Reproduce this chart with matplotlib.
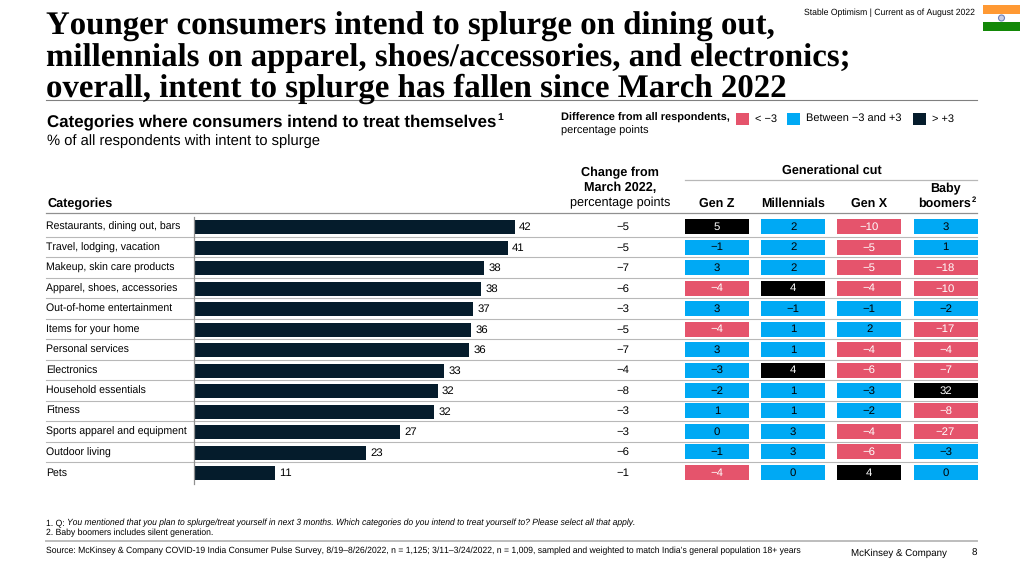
# -*- coding: utf-8 -*-

import matplotlib
matplotlib.use("Agg")
import matplotlib.pyplot as plt
from matplotlib.patches import Circle, Rectangle

WIDTH, HEIGHT = 1024, 576

categories = [
    "Restaurants, dining out, bars", "Travel, lodging, vacation",
    "Makeup, skin care products", "Apparel, shoes, accessories",
    "Out-of-home entertainment", "Items for your home", "Personal services",
    "Electronics", "Household essentials", "Fitness",
    "Sports apparel and equipment", "Outdoor living", "Pets",
]
# bars are drawn to unrounded lengths, labels round them
intent = [42.0, 41.1, 38.0, 37.6, 36.6, 36.3, 36.0, 32.8, 31.9, 31.5, 27.0, 22.6, 10.6]
change = [-5, -5, -7, -6, -3, -5, -7, -4, -8, -3, -3, -6, -1]
gen_z = [5, -1, 3, -4, 3, -4, 3, -3, -2, 1, 0, -1, -4]
millennials = [2, 2, 2, 4, -1, 1, 1, 4, 1, 1, 3, 3, 0]
gen_x = [-10, -5, -5, -4, -1, 2, -4, -6, -3, -2, -4, -6, 4]
boomers = [3, 1, -18, -10, -2, -17, -4, -7, 32, -8, -27, -3, 0]
generations = ["Gen Z", "Millennials", "Gen X"]
title_lines = [
    "Younger consumers intend to splurge on dining out,",
    "millennials on apparel, shoes/accessories, and electronics;",
    "overall, intent to splurge has fallen since March 2022",
]

NAVY = "#051C2C"
BLUE = "#00A9F4"
PINK = "#E5546C"
LINE = "#B8B8B8"

plt.rcParams["font.family"] = ["Liberation Sans", "DejaVu Sans"]
plt.rcParams["text.hinting"] = "no_hinting"
plt.rcParams["text.kerning_factor"] = 6


def pm(v):
    return str(v).replace("-", "\u2212")


def axes_px(left, top, right, bottom):
    # axes placed by pixel box of the slide
    return fig.add_axes([left / WIDTH, 1 - bottom / HEIGHT,
                         (right - left) / WIDTH, (bottom - top) / HEIGHT])


fig = plt.figure(figsize=(WIDTH / 100, HEIGHT / 100), dpi=100)

# page layer in pixels, for text and rules
page = axes_px(0, 0, WIDTH, HEIGHT)
page.set_xlim(0, WIDTH)
page.set_ylim(HEIGHT, 0)
page.axis("off")

# title
for y, line in zip([35, 66, 97], title_lines):
    page.text(46, y, line, family="Liberation Serif", weight="bold", fontsize=23.7,
              va="baseline", color="black")
page.plot([46, 977], [99.5, 99.5], color="#808080", lw=0.8)

page.text(975, 13, "Stable Optimism | Current as of August 2022", fontsize=6.2,
          ha="right", va="center")

# flag
page.add_patch(Rectangle((983, 5), 37, 8.5, color="#FF9933", lw=0))
page.add_patch(Rectangle((983, 13.5), 37, 8.5, color="white", lw=0))
page.add_patch(Rectangle((983, 22), 37, 8.5, color="#138808", lw=0))
page.add_patch(Circle((1001.5, 18), 3, fc="#C8CDE6", ec="#6F7FB8", lw=0.8))

# chart heading
sub = page.text(47, 122, "Categories where consumers intend to treat themselves",
                fontsize=12.2, weight="bold", va="center")
page.annotate("1", xy=(1, 1), xycoords=sub, xytext=(0.5, -6),
              textcoords="offset points", fontsize=7.5, weight="bold", va="bottom")
page.text(47, 141, "% of all respondents with intent to splurge", fontsize=10.6,
          va="center")

# colour legend
page.text(561, 118, "Difference from all respondents,", fontsize=7.9,
          weight="bold", va="center")
page.text(561, 131, "percentage points", fontsize=7.9, va="center")
for x, c, label in [(736, PINK, "< \u22123"), (787, BLUE, "Between \u22123 and +3"),
                    (913, NAVY, "> +3")]:
    page.add_patch(Rectangle((x, 113), 12.5, 12, color=c, lw=0))
    page.text(x + 19, 119.5, label, fontsize=7.9, va="center")

# column headers
page.text(47, 204, "Categories", fontsize=9.1, weight="bold", va="center")
page.text(620, 172.5, "Change from", fontsize=9.1, weight="bold", ha="center", va="center")
page.text(620, 187.5, "March 2022,", fontsize=9.1, weight="bold", ha="center", va="center")
page.text(620, 203, "percentage points", fontsize=9.1, ha="center", va="center")
page.text(832, 171, "Generational cut", fontsize=9.1, weight="bold", ha="center", va="center")
page.plot([685, 977], [179.5, 179.5], color=LINE, lw=0.9)
page.plot([46, 977], [212.5, 212.5], color="#909090", lw=0.9)

# row rules
for i in range(len(categories) - 1):
    y = 237 + 20.47 * i
    page.plot([46, 977], [y, y], color=LINE, lw=0.8)

# category and change columns
for i, (name, delta) in enumerate(zip(categories, change)):
    y = 227.3 + 20.47 * i
    page.text(46, y, name, fontsize=7.6, va="center")
    page.text(622.5, y, pm(delta), fontsize=8.2, ha="center", va="center")

# bars
PX_PER_UNIT = 7.65
ax = axes_px(193.5, 217, 640, 483.5)
ax.patch.set_alpha(0)
rows = list(range(len(categories)))
bars = ax.barh(rows, intent, height=14 / 20.47, color=NAVY)
ax.bar_label(bars, padding=3, fontsize=8.2, fmt="%.0f")
ax.set_xlim(0, (640 - 193.5) / PX_PER_UNIT)
ax.set_ylim(12.5, -0.5)
ax.set_xticks([])
ax.set_yticks([])
for side in ["top", "right", "bottom"]:
    ax.spines[side].set_visible(False)
ax.spines["left"].set_color("#909090")
ax.spines["left"].set_linewidth(0.9)

# generational cells
cells = axes_px(685, 216.5, 977.5, 482.6)
cells.patch.set_alpha(0)
cells.set_xlim(-0.42, 3.42)
cells.set_ylim(12.5, -0.5)
cells.axis("off")
for col, values in enumerate([gen_z, millennials, gen_x, boomers]):
    for row, v in enumerate(values):
        if v < -3:
            c, tc = PINK, "white"
        elif v > 3:
            c, tc = "black", "white"
        else:
            c, tc = BLUE, "black"
        cells.barh(row, 0.84, left=col - 0.42, height=15 / 20.47, color=c)
        cells.text(col, row + 0.02, pm(v), color=tc, fontsize=8.2,
                   ha="center", va="center")

# generation headers
for x, name in zip([717, 793.5, 869.5], generations):
    page.text(x, 204, name, fontsize=9, weight="bold", ha="center", va="center")
page.text(945, 189, "Baby", fontsize=9, weight="bold", ha="center", va="center")
b = page.text(945, 204, "boomers", fontsize=9, weight="bold", ha="center", va="center")
page.annotate("2", xy=(1, 1), xycoords=b, xytext=(0, -4), textcoords="offset points",
              fontsize=5.5, weight="bold", va="bottom")

# footnotes
q = page.text(46, 523, "1. Q: ", fontsize=6.2, va="center")
page.annotate("You mentioned that you plan to splurge/treat yourself in next 3 months. "
              "Which categories do you intend to treat yourself to? Please select all that apply.",
              xy=(1, 0), xycoords=q, fontsize=6.15, style="italic", va="bottom")
page.text(46, 532.5, "2. Baby boomers includes silent generation.", fontsize=6.2, va="center")
page.plot([46, 977], [541, 541], color="#BDBDBD", lw=1.4)
page.text(46, 550.5, "Source: McKinsey & Company COVID-19 India Consumer Pulse Survey, "
          "8/19\u20138/26/2022, n = 1,125; 3/11\u20133/24/2022, n = 1,009, sampled and "
          "weighted to match India\u2019s general population 18+ years",
          fontsize=6.18, va="center")
page.text(947, 553, "McKinsey & Company", fontsize=7, ha="right", va="center")
page.text(977, 553, "8", fontsize=7, ha="right", va="center")

fig.savefig("out.png", dpi=100)
